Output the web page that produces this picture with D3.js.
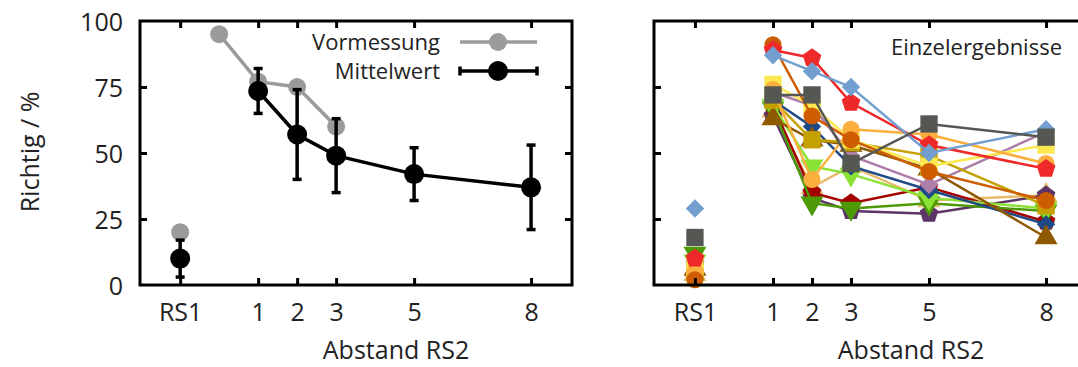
<!DOCTYPE html>
<html>
<head>
<meta charset="utf-8">
<script src="https://cdn.jsdelivr.net/npm/d3@7"></script>
<style>
  body { margin: 0; background: #fff; }
  text { font-family: "Open Sans", sans-serif; fill: #222; }
</style>
</head>
<body>
<div id="chart"></div>
<script>
// positions on the x axis: RS1 is drawn at -1, Vormessung start at 0
var tickValues = [-1, 1, 2, 3, 5, 8];
var tickLabels = ['RS1', '1', '2', '3', '5', '8'];
var yTicks = [0, 25, 50, 75, 100];

// left panel
var vorX = [0, 1, 2, 3];
var vorY = [95, 77, 75, 60];
var vorRS1 = 20;
var meanX = [1, 2, 3, 5, 8];
var meanY = [73.5, 57, 49, 42, 37];
var meanLo = [65, 40, 35, 32, 21];
var meanHi = [82, 74, 63, 52, 53];
var meanRS1 = 10, meanRS1Lo = 3, meanRS1Hi = 17;

// right panel: each subject, value at RS1 then at 1,2,3,5,8
var subjX = [1, 2, 3, 5, 8];
var subjColors = ['#e9b96e', '#5c3566', '#a40000', '#4e9a06', '#8ae234', '#204a87', '#ad7fa8', '#8f5902',
                  '#c4a000', '#fce94f', '#fcaf3e', '#ce5c00', '#ef2929', '#729fcf', '#555753'];
var subjShapes = ['triangle', 'pentagon', 'pentagon', 'triangleDown', 'triangleDown', 'diamond', 'diamond', 'triangle',
                  'square', 'square', 'circle', 'circle', 'pentagon', 'diamond', 'square'];
var subjRS1 = [4, 8, 10, 12, 9, 8, 6, 6, 5, 7, 5, 2, 10, 29, 18];
var subjVals = [
  [66, 37, 45, 32, 34],
  [64, 33, 28, 27, 34],
  [68, 35, 31, 37, 24],
  [67, 31, 29, 31, 28],
  [68, 45, 42, 33, 29],
  [70, 60, 45, 36, 23],
  [73, 68, 49, 38, 58],
  [63, 55, 53, 44, 18],
  [70, 55, 54, 49, 30],
  [76, 68, 55, 45, 53],
  [74, 40, 59, 57, 46],
  [91, 64, 55, 43, 32],
  [89, 86, 69, 53, 44],
  [87, 81, 75, 50, 59],
  [72, 72, 46, 61, 56]
];

var W = 1078, H = 367;
var svg = d3.select('#chart').append('svg')
  .attr('width', W)
  .attr('height', H);

var yTop = 21, yBottom = 285;
var y = d3.scaleLinear().domain([0, 100]).range([yBottom, yTop]);

var pentagon = {
  draw: function (ctx, size) {
    var r = Math.sqrt(size / 2.38);
    for (var i = 0; i < 5; i++) {
      var a = -Math.PI / 2 + i * 2 * Math.PI / 5;
      if (i === 0) ctx.moveTo(r * Math.cos(a), r * Math.sin(a));
      else ctx.lineTo(r * Math.cos(a), r * Math.sin(a));
    }
    ctx.closePath();
  }
};
var triDown = {
  draw: function (ctx, size) {
    var h = Math.sqrt(size / (Math.sqrt(3) / 4));
    var s = h / 2, t = h * Math.sqrt(3) / 6;
    ctx.moveTo(0, 2 * t);
    ctx.lineTo(-s, -t);
    ctx.lineTo(s, -t);
    ctx.closePath();
  }
};
// square turned by 45 degrees
var diamond = {
  draw: function (ctx, size) {
    var r = Math.sqrt(size / 2);
    ctx.moveTo(0, -r);
    ctx.lineTo(r, 0);
    ctx.lineTo(0, r);
    ctx.lineTo(-r, 0);
    ctx.closePath();
  }
};
var shapeTypes = {
  circle: d3.symbolCircle,
  square: d3.symbolSquare,
  diamond: diamond,
  triangle: d3.symbolTriangle,
  triangleDown: triDown,
  pentagon: pentagon
};
var shapeSize = { circle: 230, square: 300, diamond: 170, triangle: 230, triangleDown: 230, pentagon: 230 };

function drawFrame(g, x, left, right, showLabels) {
  // ticks on all four sides, pointing inward
  g.append('g')
    .attr('transform', 'translate(0,' + yBottom + ')')
    .call(d3.axisBottom(x).tickValues(tickValues).tickSize(-7)
      .tickFormat(function (d, i) { return tickLabels[i]; }))
    .call(function (a) {
      a.select('.domain').remove();
      a.selectAll('line').attr('stroke', '#000').attr('stroke-width', 3);
      a.selectAll('text').attr('dy', 0).attr('y', 36).attr('font-size', 25).attr('fill', '#222');
    });
  g.append('g')
    .attr('transform', 'translate(0,' + yTop + ')')
    .call(d3.axisTop(x).tickValues(tickValues).tickSize(-7).tickFormat(''))
    .call(function (a) {
      a.select('.domain').remove();
      a.selectAll('line').attr('stroke', '#000').attr('stroke-width', 3);
    });
  g.append('g')
    .attr('transform', 'translate(' + left + ',0)')
    .call(d3.axisLeft(y).tickValues(yTicks).tickSize(-7).tickFormat(showLabels ? d3.format('d') : ''))
    .call(function (a) {
      a.select('.domain').remove();
      a.selectAll('line').attr('stroke', '#000').attr('stroke-width', 3)
        .style('display', function (d) { return (d === 0 || d === 100) ? 'none' : null; });
      a.selectAll('text').attr('x', -17).attr('dy', '0.36em').attr('font-size', 25).attr('fill', '#222');
    });
  g.append('g')
    .attr('transform', 'translate(' + right + ',0)')
    .call(d3.axisRight(y).tickValues(yTicks).tickSize(-7).tickFormat(''))
    .call(function (a) {
      a.select('.domain').remove();
      a.selectAll('line').attr('stroke', '#000').attr('stroke-width', 3)
        .style('display', function (d) { return (d === 0 || d === 100) ? 'none' : null; });
    });
  g.append('rect')
    .attr('x', left).attr('y', yTop)
    .attr('width', right - left).attr('height', yBottom - yTop)
    .attr('fill', 'none').attr('stroke', '#000').attr('stroke-width', 3);
}

// ---------- left panel ----------
var x1 = d3.scaleLinear().domain([-2.03, 9.05]).range([140, 572]);
var g1 = svg.append('g');

var line1 = d3.line()
  .x(function (d) { return x1(d[0]); })
  .y(function (d) { return y(d[1]); });

var vor = d3.zip(vorX, vorY);
g1.append('path').datum(vor)
  .attr('d', line1).attr('fill', 'none').attr('stroke', '#9b9b9d').attr('stroke-width', 3.5);
g1.selectAll('.vor').data(vor.concat([[-1, vorRS1]])).enter().append('circle')
  .attr('cx', function (d) { return x1(d[0]); })
  .attr('cy', function (d) { return y(d[1]); })
  .attr('r', 9).attr('fill', '#9b9b9d');

var mean = d3.zip(meanX, meanY, meanLo, meanHi);
var meanAll = mean.concat([[-1, meanRS1, meanRS1Lo, meanRS1Hi]]);
g1.append('path').datum(mean)
  .attr('d', line1).attr('fill', 'none').attr('stroke', '#000').attr('stroke-width', 3.5);
var eb = g1.selectAll('.eb').data(meanAll).enter().append('g');
eb.append('line')
  .attr('x1', function (d) { return x1(d[0]); }).attr('x2', function (d) { return x1(d[0]); })
  .attr('y1', function (d) { return y(d[2]); }).attr('y2', function (d) { return y(d[3]); })
  .attr('stroke', '#000').attr('stroke-width', 3.5);
eb.selectAll('.cap').data(function (d) { return [[d[0], d[2]], [d[0], d[3]]]; }).enter().append('line')
  .attr('x1', function (d) { return x1(d[0]) - 4.5; }).attr('x2', function (d) { return x1(d[0]) + 4.5; })
  .attr('y1', function (d) { return y(d[1]); }).attr('y2', function (d) { return y(d[1]); })
  .attr('stroke', '#000').attr('stroke-width', 3.5);
eb.append('circle')
  .attr('cx', function (d) { return x1(d[0]); })
  .attr('cy', function (d) { return y(d[1]); })
  .attr('r', 10).attr('fill', '#000');

drawFrame(g1, x1, 140, 572, true);

// legend
var lg = g1.append('g');
lg.append('text').attr('x', 440).attr('y', 42).attr('dy', '0.35em')
  .attr('text-anchor', 'end').attr('font-size', 22).text('Vormessung');
lg.append('line').attr('x1', 460).attr('x2', 537).attr('y1', 42).attr('y2', 42)
  .attr('stroke', '#9b9b9d').attr('stroke-width', 3.5);
lg.append('circle').attr('cx', 498).attr('cy', 42).attr('r', 9).attr('fill', '#9b9b9d');
lg.append('text').attr('x', 440).attr('y', 71).attr('dy', '0.35em')
  .attr('text-anchor', 'end').attr('font-size', 22).text('Mittelwert');
lg.append('line').attr('x1', 460).attr('x2', 537).attr('y1', 71).attr('y2', 71)
  .attr('stroke', '#000').attr('stroke-width', 3.5);
[460, 537].forEach(function (cx) {
  lg.append('line').attr('x1', cx).attr('x2', cx).attr('y1', 66.5).attr('y2', 75.5)
    .attr('stroke', '#000').attr('stroke-width', 3.5);
});
lg.append('circle').attr('cx', 498).attr('cy', 71).attr('r', 10).attr('fill', '#000');

svg.append('text')
  .attr('transform', 'translate(30,152) rotate(-90)')
  .attr('dy', '0.35em').attr('text-anchor', 'middle').attr('font-size', 25)
  .text('Richtig / %');
svg.append('text').attr('x', 396).attr('y', 359)
  .attr('text-anchor', 'middle').attr('font-size', 25).text('Abstand RS2');

// ---------- right panel ----------
var x2 = d3.scaleLinear().domain([-2.05, 9.05]).range([654, 1087]);
var g2 = svg.append('g');
var line2 = d3.line()
  .x(function (d) { return x2(d[0]); })
  .y(function (d) { return y(d[1]); });

subjVals.forEach(function (vals, i) {
  var pts = d3.zip(subjX, vals);
  var col = subjColors[i];
  var shp = subjShapes[i];
  var sg = g2.append('g');
  sg.append('path').datum(pts)
    .attr('d', line2).attr('fill', 'none').attr('stroke', col).attr('stroke-width', 2.5);
  sg.selectAll('path.m').data(pts.concat([[-1, subjRS1[i]]])).enter().append('path')
    .attr('class', 'm')
    .attr('transform', function (d) { return 'translate(' + x2(d[0]) + ',' + y(d[1]) + ')'; })
    .attr('d', d3.symbol().type(shapeTypes[shp]).size(shapeSize[shp]))
    .attr('fill', col);
});

drawFrame(g2, x2, 654, 1087, false);

svg.append('text').attr('x', 1062).attr('y', 47).attr('dy', '0.35em')
  .attr('text-anchor', 'end').attr('font-size', 22).text('Einzelergebnisse');
svg.append('text').attr('x', 911).attr('y', 359)
  .attr('text-anchor', 'middle').attr('font-size', 25).text('Abstand RS2');
</script>
</body>
</html>
